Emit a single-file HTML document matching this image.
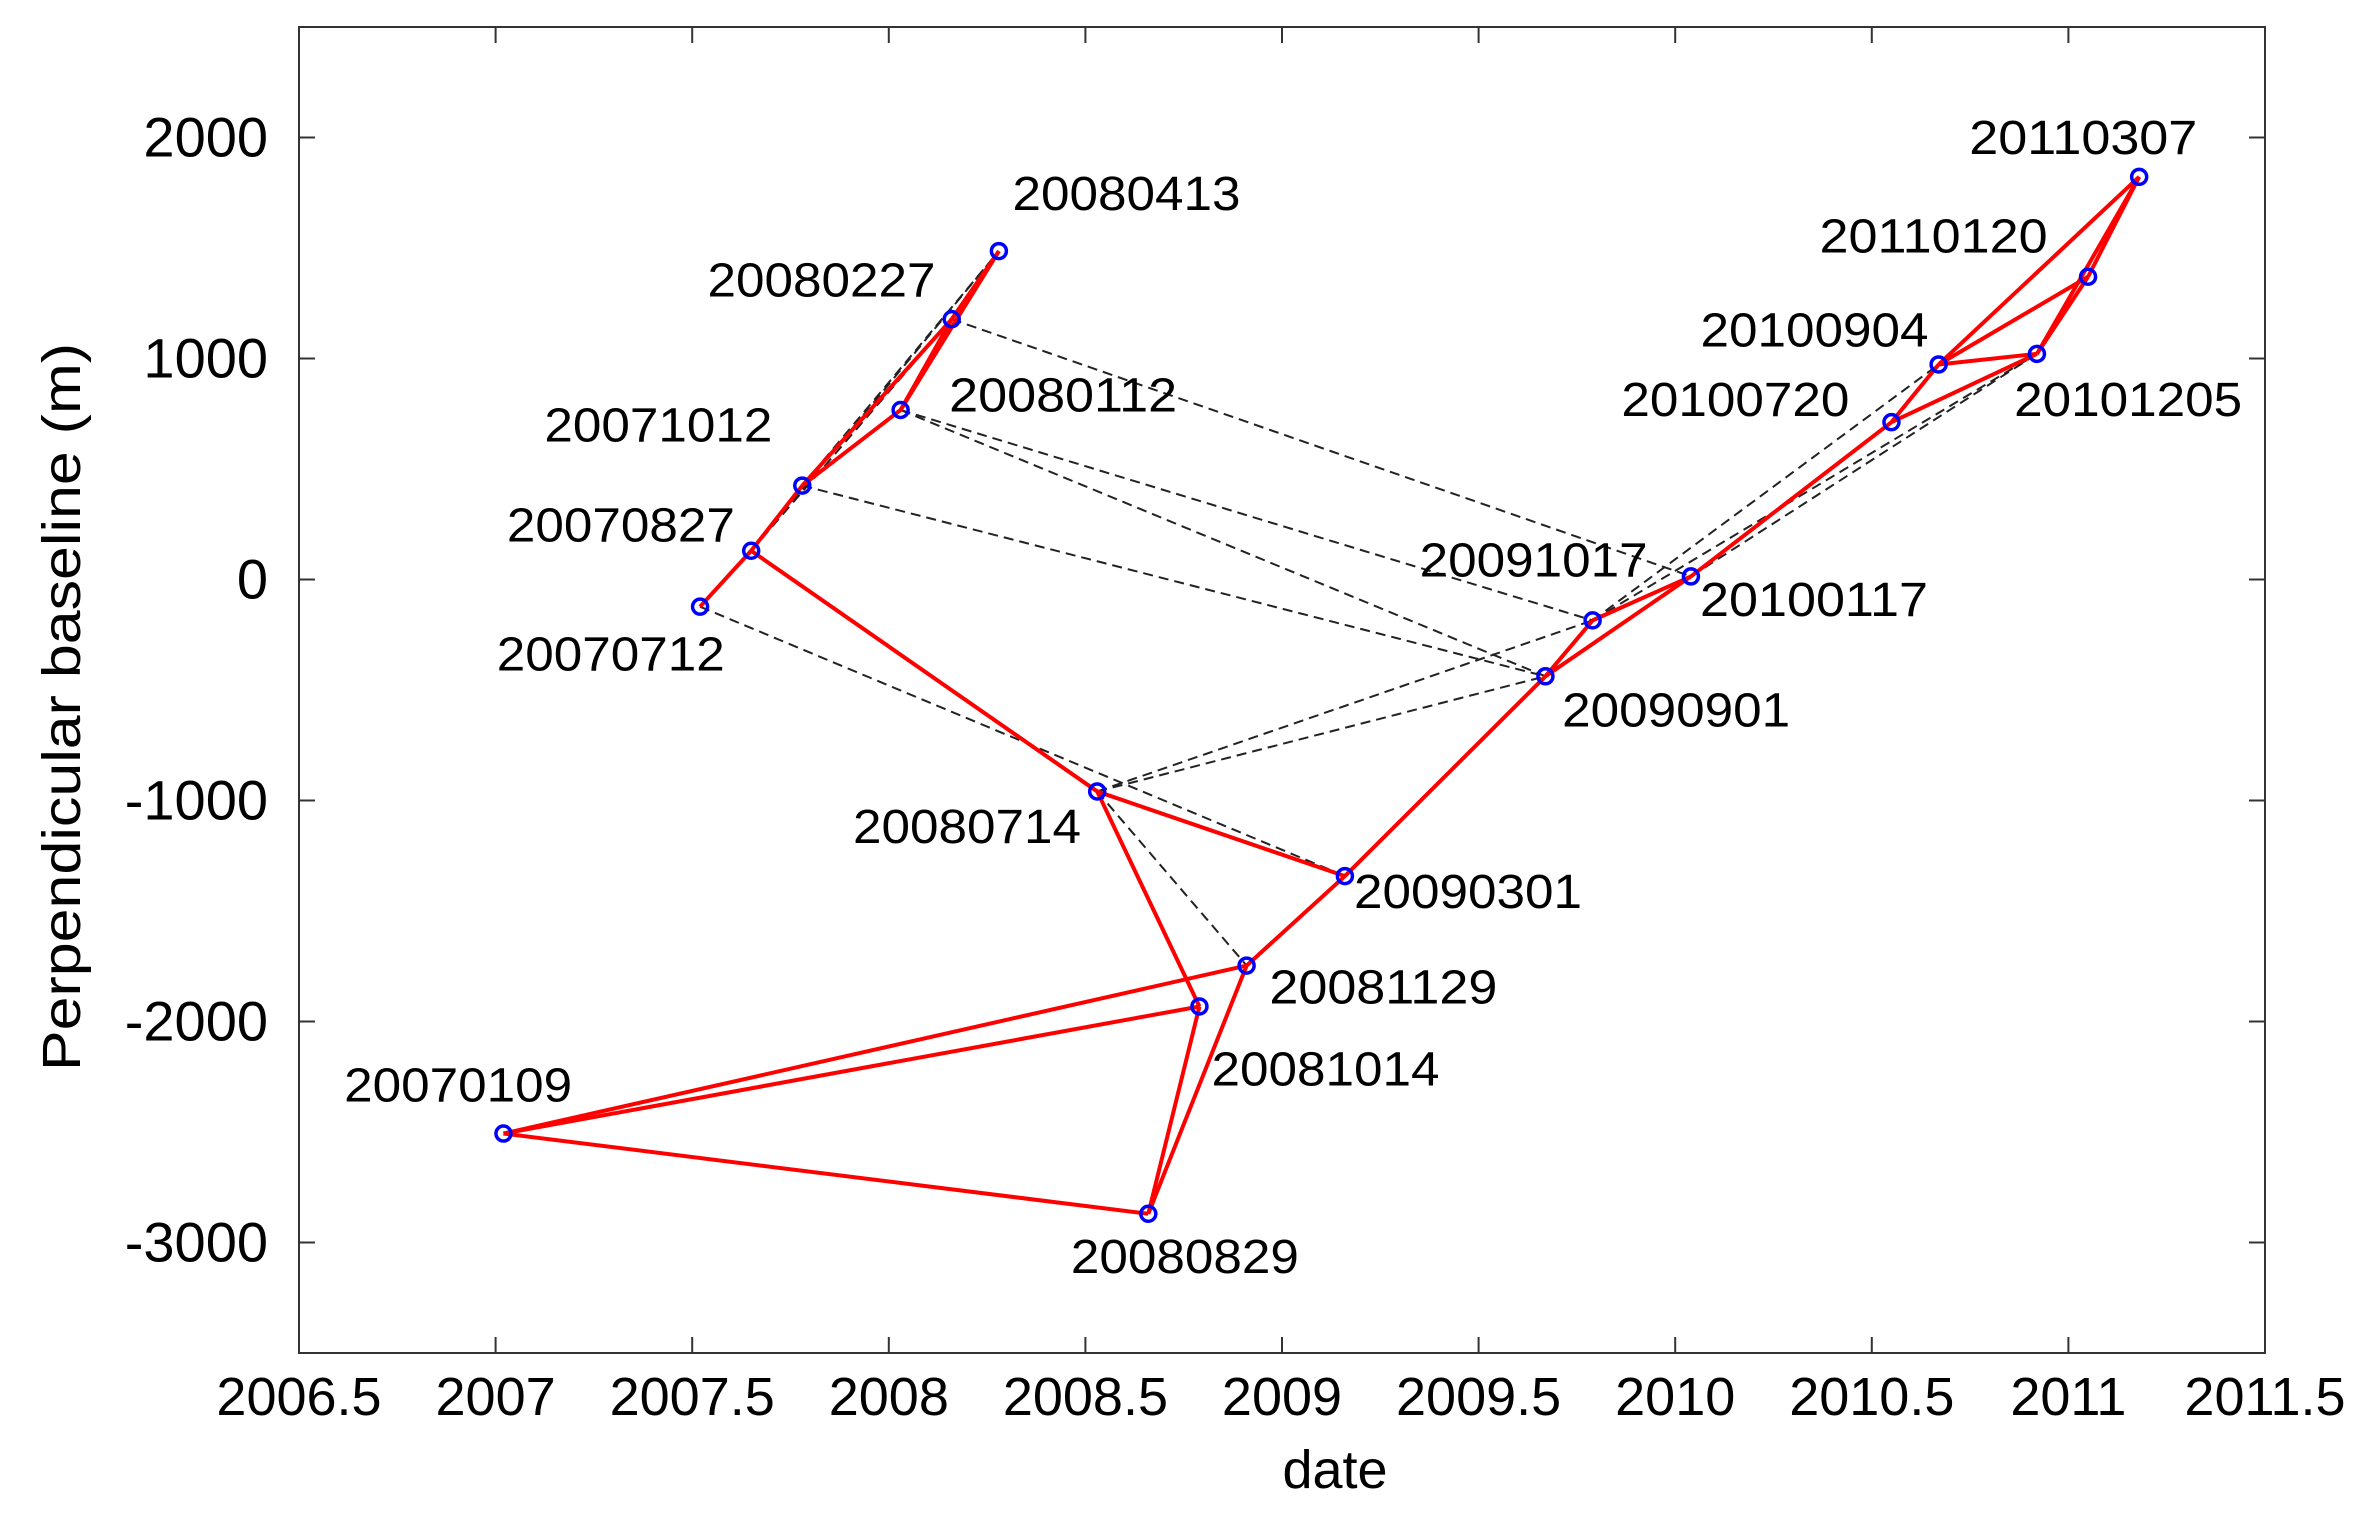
<!DOCTYPE html>
<html><head><meta charset="utf-8">
<style>html,body{margin:0;padding:0;background:#fff;}svg{display:block;}</style></head>
<body>
<svg id="chart" width="2379" height="1521" xmlns="http://www.w3.org/2000/svg" font-family="'Liberation Sans', sans-serif"></svg>
<script>
const dates = ['20070109','20070712','20070827','20071012','20080112','20080227','20080413','20080714','20080829','20081014','20081129','20090301','20090901','20091017','20100117','20100720','20100904','20101205','20110120','20110307'];
const timeYears = [2007.02,2007.52,2007.65,2007.78,2008.03,2008.16,2008.28,2008.53,2008.66,2008.79,2008.91,2009.16,2009.67,2009.79,2010.04,2010.55,2010.67,2010.92,2011.05,2011.18];
const baselines = [-2507,-123,130,425,767,1178,1486,-959,-2870,-1932,-1747,-1342,-438,-185,14,712,973,1021,1370,1822];
const redEdges = [[0,8],[0,9],[0,10],[1,2],[2,3],[2,7],[3,4],[3,5],[4,5],[4,6],[5,6],[7,9],[7,11],[8,9],[8,10],[10,11],[11,12],[12,13],[12,14],[13,14],[14,15],[15,16],[15,17],[16,17],[16,18],[16,19],[17,18],[18,19],[17,19]];
const dashEdges = [[1,11],[2,5],[2,6],[3,6],[3,12],[4,12],[4,13],[5,14],[7,13],[7,12],[7,10],[13,16],[13,17],[14,17]];
const xTicks = [2006.5,2007,2007.5,2008,2008.5,2009,2009.5,2010,2010.5,2011,2011.5];
const xTickLabels = ['2006.5','2007','2007.5','2008','2008.5','2009','2009.5','2010','2010.5','2011','2011.5'];
const yTicks = [-3000,-2000,-1000,0,1000,2000];
const yTickLabels = ['-3000','-2000','-1000','0','1000','2000'];
const labelDx = [-105,-134,-161,-170,32,-161,9,-161,-51,8,15,6,11,-114,6,-178,-157,-15,-177,-112];
const labelDy = [-21,42,-6,-29,1,-15,-27,34,39,52,25,21,33,-29,26,-4,-12,41,-16,-15];

const S = 1.517;
const L=299, R=2265, T=27, B=1353;
const xMin=2006.5,xMax=2011.5,yMin=-3500,yMax=2500;
const X = v => L+(v-xMin)/(xMax-xMin)*(R-L);
const Y = v => B-(v-yMin)/(yMax-yMin)*(B-T);
const svg=document.getElementById('chart');
const NS='http://www.w3.org/2000/svg';
function mk(tag,attrs,parent){const e=document.createElementNS(NS,tag);for(const k in attrs)e.setAttribute(k,attrs[k]);(parent||svg).appendChild(e);return e;}

const frame=mk('rect',{x:L,y:T,width:R-L,height:B-T,fill:'none',stroke:'#333','stroke-width':2});



const xg=mk('g',{});


xTicks.forEach((t,i)=>{
  const x=X(t);
  mk('line',{x1:x,y1:B,x2:x,y2:B-16,stroke:'#333','stroke-width':2},xg);
  mk('line',{x1:x,y1:T,x2:x,y2:T+16,stroke:'#333','stroke-width':2},xg);
  const tx=mk('text',{x:x,y:1415,'font-size':54,'text-anchor':'middle',fill:'#000'},xg);
  tx.textContent=xTickLabels[i];
  
  
});
const yg=mk('g',{});


yTicks.forEach((t,i)=>{
  const y=Y(t);
  mk('line',{x1:L,y1:y,x2:L+16,y2:y,stroke:'#333','stroke-width':2},yg);
  mk('line',{x1:R,y1:y,x2:R-16,y2:y,stroke:'#333','stroke-width':2},yg);
  const tx=mk('text',{x:268,y:y+19,'font-size':56,'text-anchor':'end',fill:'#000'},yg);
  tx.textContent=yTickLabels[i];
  
  
});
const xt=mk('text',{x:1335,y:1488,'font-size':54,'text-anchor':'middle',fill:'#000'});
xt.textContent='date';


const yt=mk('text',{x:0,y:0,'font-size':54,'text-anchor':'middle',fill:'#000',transform:'translate(80,707) rotate(-90)',textLength:728,lengthAdjust:'spacingAndGlyphs'});
yt.textContent='Perpendicular baseline (m)';



const dg=mk('g',{});


dashEdges.forEach(([a,b])=>{
  const l=mk('line',{x1:X(timeYears[a]),y1:Y(baselines[a]),x2:X(timeYears[b]),y2:Y(baselines[b]),stroke:'#222','stroke-width':2,'stroke-dasharray':'10,6'},dg);
  
  
});
const rg=mk('g',{});


redEdges.forEach(([a,b])=>{
  const l=mk('line',{x1:X(timeYears[a]),y1:Y(baselines[a]),x2:X(timeYears[b]),y2:Y(baselines[b]),stroke:'#f00','stroke-width':4},rg);
  
  
});
const pg=mk('g',{});


dates.forEach((d,i)=>{
  const cx=X(timeYears[i]), cy=Y(baselines[i]);
  const c=mk('circle',{cx:cx,cy:cy,r:7.5,fill:'none',stroke:'#00f','stroke-width':3.5},pg);
  
  
  const t=mk('text',{x:cx+labelDx[i]*S,y:cy+labelDy[i]*S,'font-size':48,fill:'#000',textLength:228,lengthAdjust:'spacingAndGlyphs'},pg);
  t.textContent=d;
  
  
});
</script>
</body></html>
